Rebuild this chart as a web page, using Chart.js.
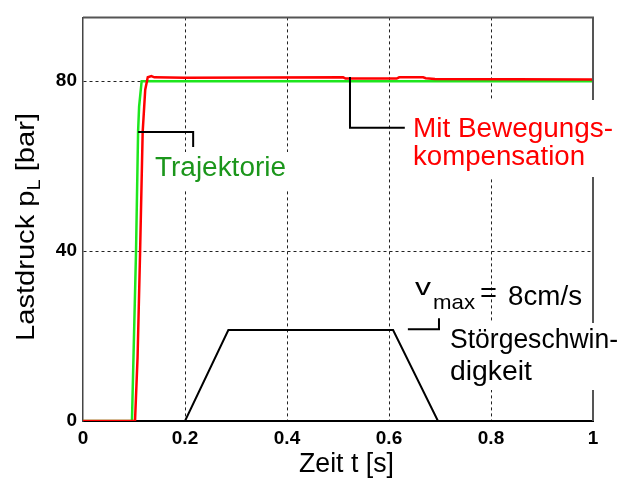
<!DOCTYPE html>
<html>
<head>
<meta charset="utf-8">
<script src="https://cdn.jsdelivr.net/npm/chart.js@4.4.1/dist/chart.umd.min.js"></script>
<style>
    html, body { margin: 0; padding: 0; background: #ffffff; }
    #wrap { width: 637px; height: 479px; position: relative; }
</style>
</head>
<body>
<div id="wrap"><canvas id="graphCanvas"></canvas></div>
<script>
// Trajektorie (Sollverlauf Lastdruck)
var trajZeit = [0, 0.096, 0.104, 0.108, 0.110, 0.115, 1];
var trajDruck = [0, 0, 40, 68, 74, 80, 80];

// Lastdruck mit Bewegungskompensation
var kompZeit = [0, 0.102, 0.107, 0.112, 0.117, 0.122, 0.127, 0.134, 0.14, 0.2, 0.51, 0.515, 0.615, 0.62, 0.667, 0.672, 0.69, 1];
var kompDruck = [0, 0, 15, 40, 68, 78, 80.9, 81.2, 80.9, 80.8, 80.9, 80.6, 80.6, 80.9, 80.9, 80.7, 80.5, 80.4];

// Störgeschwindigkeit (skaliert auf die Druckachse)
var stoerZeit = [0, 0.2, 0.285, 0.608, 0.696, 1];
var stoerWert = [0, 0, 21.4, 21.4, 0, 0];

var xTicks = [0, 0.2, 0.4, 0.6, 0.8, 1];
var yTicks = [0, 40, 80];

var FONT = '"Liberation Sans", Arial, sans-serif';
var TICKFONT = '"Liberation Sans Narrow", "Arial Narrow", "Liberation Sans", Arial, sans-serif';

function toPoints(xs, ys) {
    var pts = [];
    for (var i in xs) {
        pts.push({x: xs[i], y: ys[i]});
    }
    return pts;
}

// Text auf eine gemessene Breite strecken
function fitText(ctx, text, left, baseline, width, size, color) {
    ctx.font = size + 'px ' + FONT;
    var m = ctx.measureText(text).width;
    ctx.save();
    ctx.fillStyle = color;
    ctx.textBaseline = 'alphabetic';
    ctx.textAlign = 'left';
    ctx.translate(left, baseline);
    ctx.scale(width / m, 1);
    ctx.fillText(text, 0, 0);
    ctx.restore();
}

var annotations = {
    id: 'annotations',
    afterDraw: function (chart) {
        var ctx = chart.ctx;
        var a = chart.chartArea;
        var xs = chart.scales.x, ys = chart.scales.y;
        var px = function (v) { return xs.getPixelForValue(v); };
        var py = function (v) { return ys.getPixelForValue(v); };

        ctx.save();
        // Rahmen oben und rechts
        ctx.strokeStyle = '#555555';
        ctx.lineWidth = 2;
        ctx.beginPath();
        ctx.moveTo(a.left, a.top);
        ctx.lineTo(a.right, a.top);
        ctx.lineTo(a.right, a.bottom);
        ctx.stroke();

        // weisse Hintergruende der Beschriftungen
        ctx.fillStyle = '#ffffff';
        ctx.fillRect(150, 152, 140, 38);
        ctx.fillRect(408, 100, 225, 77);
        ctx.fillRect(445, 323, 185, 67);

        // Hinweislinien
        ctx.strokeStyle = '#000000';
        ctx.lineWidth = 2;
        ctx.beginPath();
        ctx.moveTo(px(0.108), py(68));
        ctx.lineTo(px(0.216), py(68));
        ctx.lineTo(px(0.216), py(64.5));
        ctx.moveTo(px(0.5235), py(81));
        ctx.lineTo(px(0.5235), py(69));
        ctx.lineTo(px(0.631), py(69));
        ctx.moveTo(px(0.637), py(21.6));
        ctx.lineTo(px(0.698), py(21.6));
        ctx.lineTo(px(0.698), py(24.2));
        ctx.stroke();

        // Beschriftungen
        fitText(ctx, 'Trajektorie', 155, 176, 131, 27, '#1b961b');
        fitText(ctx, 'Mit Bewegungs-', 413, 137, 200, 27, '#ff0000');
        fitText(ctx, 'kompensation', 413, 165, 172, 27, '#ff0000');
        fitText(ctx, 'v', 415, 295, 16, 24, '#000000');
        fitText(ctx, 'max', 433, 309, 42, 21, '#000000');
        fitText(ctx, '=', 480, 302, 17, 27, '#000000');
        fitText(ctx, '8cm/s', 508, 305, 74, 27, '#000000');
        fitText(ctx, 'Störgeschwin-', 450, 348, 168, 27, '#000000');
        fitText(ctx, 'digkeit', 450, 380, 82, 27, '#000000');

        // Achsentitel
        fitText(ctx, 'Zeit t [s]', 299, 472, 95, 27, '#000000');

        var big = '26px ' + FONT, small = '18px ' + FONT;
        ctx.font = big;
        var w1 = ctx.measureText('Lastdruck p').width;
        var w3 = ctx.measureText(' [bar]').width;
        ctx.font = small;
        var w2 = ctx.measureText('L').width;
        var s = 228 / (w1 + w2 + w3);
        ctx.save();
        ctx.fillStyle = '#000000';
        ctx.translate(34, 341);
        ctx.rotate(-Math.PI / 2);
        ctx.scale(s, 1);
        ctx.font = big;
        ctx.fillText('Lastdruck p', 0, 0);
        ctx.font = small;
        ctx.fillText('L', w1, 6);
        ctx.font = big;
        ctx.fillText(' [bar]', w1 + w2, 0);
        ctx.restore();

        ctx.restore();
    }
};

function gridColor(edges) {
    return function (c) {
        if (c.tick && edges.indexOf(c.tick.value) >= 0) return 'rgba(0,0,0,0)';
        return '#222222';
    };
}

var chartdata = {
    datasets: [{
        label: 'Mit Bewegungskompensation',
        data: toPoints(kompZeit, kompDruck),
        borderColor: '#ff0000',
        borderWidth: 2.5,
        pointRadius: 0,
        tension: 0
    }, {
        label: 'Trajektorie',
        data: toPoints(trajZeit, trajDruck),
        borderColor: '#1ee61e',
        borderWidth: 2.5,
        pointRadius: 0,
        tension: 0
    }, {
        label: 'Störgeschwindigkeit',
        data: toPoints(stoerZeit, stoerWert),
        borderColor: '#000000',
        borderWidth: 2,
        pointRadius: 0,
        tension: 0
    }]
};

var graphTarget = document.getElementById('graphCanvas');

var lineGraph = new Chart(graphTarget, {
    type: 'line',
    data: chartdata,
    plugins: [annotations],
    options: {
        responsive: true,
        maintainAspectRatio: false,
        animation: false,
        devicePixelRatio: 1,
        layout: {
            padding: {top: 16, right: 44, left: 0, bottom: 0}
        },
        plugins: {
            legend: {display: false},
            tooltip: {enabled: false}
        },
        scales: {
            x: {
                type: 'linear',
                min: 0,
                max: 1,
                afterBuildTicks: function (scale) {
                    scale.ticks = xTicks.map(function (v) { return {value: v}; });
                },
                afterFit: function (scale) { scale.height = 58; },
                grid: {
                    color: gridColor([0, 1]),
                    lineWidth: 1,
                    drawTicks: false
                },
                border: {color: '#000000', width: 2, dash: [3, 3]},
                ticks: {
                    padding: 6,
                    color: '#000000',
                    maxRotation: 0,
                    font: {family: TICKFONT, size: 19, weight: 'bold'},
                    callback: function (v) { return String(v); }
                }
            },
            y: {
                min: 0,
                max: 95,
                afterBuildTicks: function (scale) {
                    scale.ticks = yTicks.map(function (v) { return {value: v}; });
                },
                afterFit: function (scale) { scale.width = 83; },
                grid: {
                    color: gridColor([0]),
                    lineWidth: 1,
                    drawTicks: false
                },
                border: {color: '#444444', width: 1.5, dash: [3, 3]},
                ticks: {
                    padding: 6,
                    color: '#000000',
                    font: {family: TICKFONT, size: 19, weight: 'bold'},
                    callback: function (v) { return String(v); }
                }
            }
        }
    }
});
</script>
</body>
</html>
